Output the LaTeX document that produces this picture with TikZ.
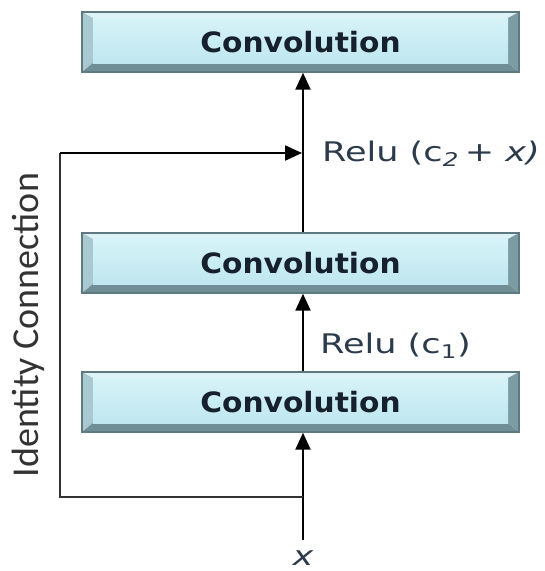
\documentclass[tikz,border=0pt]{standalone}
\usepackage{fontspec}
\usepackage{graphicx}
\setmainfont{DejaVu Sans}
\newfontfamily\idfont{Carlito}
\usetikzlibrary{arrows.meta}
\definecolor{boxedge}{HTML}{5E7A80}
\definecolor{bevtop}{HTML}{DDF2F6}
\definecolor{bevleft}{HTML}{A9C9D0}
\definecolor{bevright}{HTML}{7C9CA4}
\definecolor{bevbot}{HTML}{6F8E95}
\definecolor{facetop}{HTML}{D6F3F8}
\definecolor{facebot}{HTML}{BFE7EF}
\definecolor{convtext}{HTML}{16212D}
\definecolor{relutext}{HTML}{2C3B4C}
\definecolor{idtext}{HTML}{333333}
\tikzset{
  convbox/.style={rectangle, minimum width=437pt, minimum height=60pt, inner sep=0pt,
    draw=boxedge, line width=1.4pt, text=convtext,
    font=\fontsize{28}{30}\selectfont\bfseries,
    path picture={
      \coordinate (nw) at (path picture bounding box.north west);
      \coordinate (ne) at (path picture bounding box.north east);
      \coordinate (sw) at (path picture bounding box.south west);
      \coordinate (se) at (path picture bounding box.south east);
      \fill[bevtop] (nw) -- (ne) -- ([xshift=-11pt,yshift=-6pt]ne) -- ([xshift=11pt,yshift=-6pt]nw) -- cycle;
      \fill[bevleft] (nw) -- ([xshift=11pt,yshift=-6pt]nw) -- ([xshift=11pt,yshift=9pt]sw) -- (sw) -- cycle;
      \fill[bevright] (ne) -- ([xshift=-11pt,yshift=-6pt]ne) -- ([xshift=-11pt,yshift=9pt]se) -- (se) -- cycle;
      \fill[bevbot] (sw) -- ([xshift=11pt,yshift=9pt]sw) -- ([xshift=-11pt,yshift=9pt]se) -- (se) -- cycle;
      \shade[top color=facetop, bottom color=facebot] ([xshift=11pt,yshift=-6pt]nw) rectangle ([xshift=-11pt,yshift=9pt]se);
    }},
  flow/.style={line width=2.3pt, draw=black, -{Triangle[length=17pt,width=15pt]}},
  plain/.style={line width=2.3pt, draw=black!80},
  relu/.style={text=relutext, font=\fontsize{27}{30}\selectfont, inner sep=0pt},
}
\begin{document}
\begin{tikzpicture}[x=1pt,y=-1pt]
\useasboundingbox (0,0) rectangle (545,571);
\node[convbox] (top) at (300.5,42) {\scalebox{1.06}[1]{Convolution}};
\node[convbox] (mid) at (300.5,263) {\scalebox{1.06}[1]{Convolution}};
\node[convbox] (bot) at (300.5,402) {\scalebox{1.06}[1]{Convolution}};
\coordinate (xin) at (303,540);
\coordinate (j) at (303,497);
\coordinate (c1) at (60,497);
\coordinate (c2) at (60,153);
\coordinate (jt) at (302,153);
\node[relu, anchor=base] (xl) at (303,565) {\scalebox{1.3}[1]{\itshape x}};
\draw[flow] (xin) -- (xin |- bot.south);
\draw[flow] (xin |- bot.north) -- (xin |- mid.south);
\draw[flow] (xin |- mid.north) -- (xin |- top.south);
\draw[plain] (j) -- (c1) -- (c2);
\draw[flow] (c2) -- (jt);
\node[relu, anchor=base west] (r2) at (322,161) {\scalebox{1.3}[1]{Relu (c\textsubscript{\itshape 2}\,+ \itshape x)}};
\node[relu, anchor=base west] (r1) at (320,353) {\scalebox{1.3}[1]{Relu (c\textsubscript{1})}};
\node[rotate=90, text=idtext, font=\idfont\fontsize{38}{40}\selectfont, inner sep=0pt] (id) at (28,325) {Identity Connection};
\end{tikzpicture}
\end{document}
